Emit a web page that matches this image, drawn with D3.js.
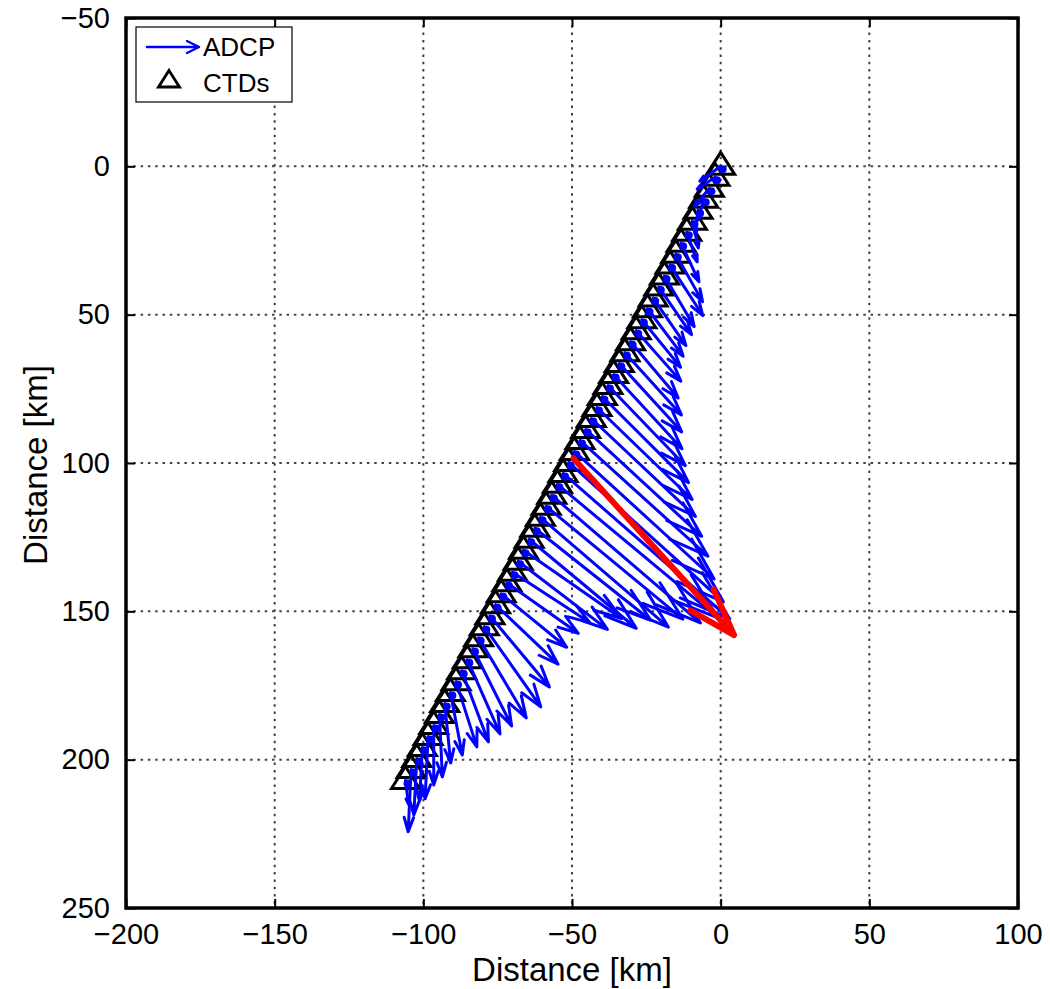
<!DOCTYPE html>
<html><head><meta charset="utf-8">
<script src="https://cdn.jsdelivr.net/npm/d3@7"></script>
<style>body{margin:0;background:#fff}svg{display:block}</style>
</head><body>
<svg id="c" width="1050" height="989"></svg>
<script>
// ---- data ----
const xTicks = [-200, -150, -100, -50, 0, 50, 100];
const yTicks = [-50, 0, 50, 100, 150, 200, 250];
const xDomain = [-200, 100];
const yDomain = [-50, 250];

// CTD station positions (km)
const ctdX = [0,-1.9,-3.8,-5.7,-7.6,-9.5,-11.4,-13.3,-15.1,-17.0,-18.9,-20.8,-22.7,-24.6,-26.5,-28.4,-30.3,-32.2,-34.1,-36.0,-37.9,-39.8,-41.6,-43.5,-45.4,-47.3,-49.2,-51.1,-53.0,-54.9,-56.8,-58.7,-60.6,-62.5,-64.4,-66.3,-68.1,-70.0,-71.9,-73.8,-75.7,-77.6,-79.5,-81.4,-83.3,-85.2,-87.1,-89.0,-90.9,-92.8,-94.6,-96.5,-98.4,-100.3,-102.2,-104.1,-106.0];
const ctdY = [0,3.7,7.4,11.1,14.8,18.5,22.2,25.9,29.6,33.3,37.0,40.7,44.4,48.0,51.7,55.4,59.1,62.8,66.5,70.2,73.9,77.6,81.3,85.0,88.7,92.4,96.1,99.8,103.5,107.2,110.9,114.6,118.3,122.0,125.7,129.4,133.1,136.8,140.4,144.1,147.8,151.5,155.2,158.9,162.6,166.3,170.0,173.7,177.4,181.1,184.8,188.5,192.2,195.9,199.6,203.3,207.0];

// ADCP vectors (scaled, km)
const adcpU = [-7,-6,-5,-2,-1,2,3.5,6,9,11,10,11,11,12,13,15,16,19,21,23,26,29,32,35,39,43,47,52,56,54,50,46,43,39,36,33,30,26,24,22,21,20,19,16,13,11,9,7,4,2,1,0,-1,-1,-1,-1,1];
const adcpV = [5,4,6,7,8,9,10,13,16,17,17,16,16,16,16,17,19,21,23,25,27,29,31,33,36,39,43,47,49,45,43,38,37,31,30,23,23,17,17,18,20,24,27,27,26,25,24,22,21,20,21,20,21,18,19,21,8];

// highlighted (mean) vector
const redX = [-49.5], redY = [98.5], redU = [54], redV = [59.5];

// ---- layout ----
const L = 126, R = 1018, T = 18, B = 908;
const svg = d3.select("#c");
const x = d3.scaleLinear().domain(xDomain).range([L, R]);
const y = d3.scaleLinear().domain(yDomain).range([T, B]);
const FONT = "'Liberation Sans', Arial, Helvetica, sans-serif";
const fmt = v => (v < 0 ? "\u2212" + Math.abs(v) : "" + v);

svg.append("rect").attr("width",1050).attr("height",989).attr("fill","#fff");

// grid
const grid = svg.append("g").attr("stroke","#444").attr("stroke-width",2).attr("stroke-dasharray","2.5,4.8");
grid.selectAll(".gx").data(xTicks.slice(1,-1)).join("line")
  .attr("x1",d=>x(d)).attr("x2",d=>x(d)).attr("y1",T).attr("y2",B);
grid.selectAll(".gy").data(yTicks.slice(1,-1)).join("line")
  .attr("y1",d=>y(d)).attr("y2",d=>y(d)).attr("x1",L).attr("x2",R);

// axes
const tl = 9;
const axB = svg.append("g").attr("transform",`translate(0,${B})`).call(d3.axisBottom(x).tickValues(xTicks).tickFormat(fmt).tickSizeInner(-tl).tickSizeOuter(0).tickPadding(15));
const axT = svg.append("g").attr("transform",`translate(0,${T})`).call(d3.axisTop(x).tickValues(xTicks).tickFormat("").tickSizeInner(-tl).tickSizeOuter(0));
const axL = svg.append("g").attr("transform",`translate(${L},0)`).call(d3.axisLeft(y).tickValues(yTicks).tickFormat(fmt).tickSizeInner(-tl).tickSizeOuter(0).tickPadding(16));
const axR = svg.append("g").attr("transform",`translate(${R},0)`).call(d3.axisRight(y).tickValues(yTicks).tickFormat("").tickSizeInner(-tl).tickSizeOuter(0));
[axB,axT,axL,axR].forEach(a=>{
  a.select(".domain").remove();
  a.selectAll(".tick line").attr("stroke","#000").attr("stroke-width",2);
  a.selectAll("text").attr("font-family",FONT).attr("font-size",29).attr("fill","#000");
});
axB.selectAll("text").attr("dy","0.71em");

// arrows
function arrowPath(x0,y0,u,v,alpha,beta){
  const x1 = x0+u, y1 = y0+v;
  const px0=x(x0), py0=y(y0), px1=x(x1), py1=y(y1);
  const du = px1-px0, dv = py1-py0;
  const h1x = px1 - alpha*(du + beta*dv), h1y = py1 - alpha*(dv - beta*du);
  const h2x = px1 - alpha*(du - beta*dv), h2y = py1 - alpha*(dv + beta*du);
  return `M${px0},${py0}L${px1},${py1}M${h1x},${h1y}L${px1},${py1}L${h2x},${h2y}`;
}

// CTD triangles
const tri = "M0,-14L14,8L-14,8Z";
svg.append("g").selectAll("path").data(ctdX).join("path")
  .attr("d",tri).attr("transform",(d,i)=>`translate(${x(d)},${y(ctdY[i])})`)
  .attr("fill","none").attr("stroke","#000").attr("stroke-width",3).attr("stroke-linejoin","miter");

// blue arrows
const blue = svg.append("g");
blue.selectAll("path").data(ctdX).join("path")
  .attr("d",(d,i)=>arrowPath(d,ctdY[i],adcpU[i],adcpV[i],0.23,0.33))
  .attr("fill","none").attr("stroke","#0000ff").attr("stroke-width",3)
  .attr("stroke-linecap","round").attr("stroke-linejoin","round");
blue.selectAll("circle").data(ctdX).join("circle")
  .attr("cx",(d,i)=>x(d)+2).attr("cy",(d,i)=>y(ctdY[i])+3).attr("r",4).attr("fill","#0000ff");

// red arrow
svg.append("g").selectAll("path").data(redX).join("path")
  .attr("d",(d,i)=>arrowPath(d,redY[i],redU[i],redV[i],0.2,0.33))
  .attr("fill","none").attr("stroke","#ff0000").attr("stroke-width",6)
  .attr("stroke-linecap","round").attr("stroke-linejoin","round");

// frame
svg.append("rect").attr("x",L).attr("y",T).attr("width",R-L).attr("height",B-T)
  .attr("fill","none").attr("stroke","#000").attr("stroke-width",3.5);

// axis labels
svg.append("text").attr("x",572).attr("y",981).attr("text-anchor","middle")
  .attr("font-family",FONT).attr("font-size",33).text("Distance [km]");
svg.append("text").attr("transform",`translate(47,${465}) rotate(-90)`).attr("text-anchor","middle")
  .attr("font-family",FONT).attr("font-size",33).text("Distance [km]");

// legend
const lg = svg.append("g");
lg.append("rect").attr("x",136).attr("y",27).attr("width",156).attr("height",75)
  .attr("fill","#fff").attr("stroke","#000").attr("stroke-width",1.2);
lg.append("path").attr("d",`M147,47L199,47M187,41L199,47L187,53`).attr("fill","none")
  .attr("stroke","#0000ff").attr("stroke-width",2.4).attr("stroke-linecap","round").attr("stroke-linejoin","round");
lg.append("path").attr("d",tri).attr("transform","translate(169,81) scale(0.75)")
  .attr("fill","none").attr("stroke","#000").attr("stroke-width",3.8);
lg.append("text").attr("x",203).attr("y",56).attr("font-family",FONT).attr("font-size",26).text("ADCP");
lg.append("text").attr("x",203).attr("y",92).attr("font-family",FONT).attr("font-size",26).text("CTDs");
</script>
</body></html>
